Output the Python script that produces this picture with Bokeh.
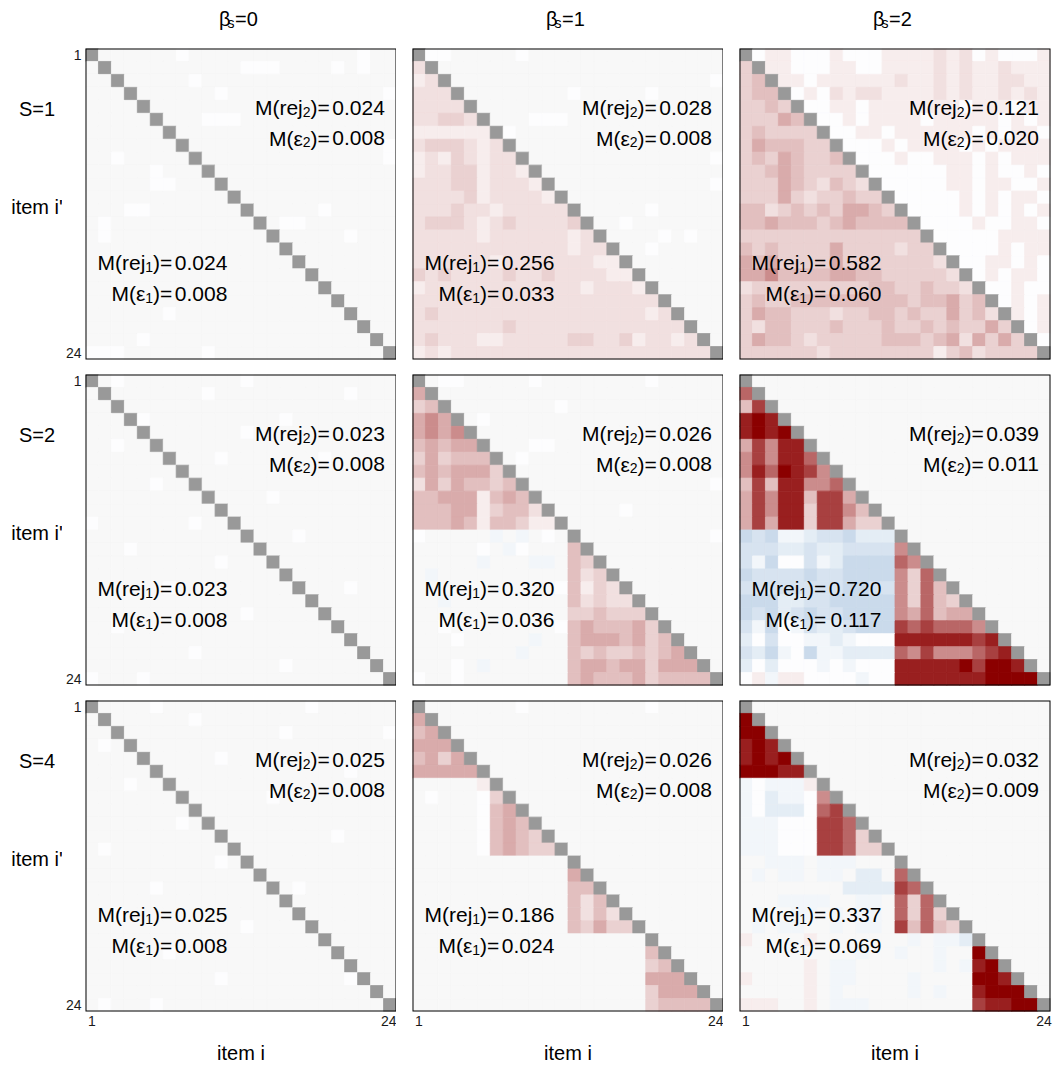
import numpy as np
from bokeh.plotting import figure
from bokeh.models import LinearColorMapper, Range1d, Label, FixedTicker, ColumnDataSource, BoxAnnotation
from bokeh.transform import transform
from bokeh.layouts import gridplot
from bokeh.embed import file_html
from bokeh.resources import INLINE

# ---------------- data ----------------
BETA_S = ["0", "1", "2"]
S_GROUPS = ["1", "2", "4"]
N_ITEMS = 24
TICKS = [1, 24]

REJ1 = [["0.024", "0.256", "0.582"], ["0.023", "0.320", "0.720"], ["0.025", "0.186", "0.337"]]
EPS1 = [["0.008", "0.033", "0.060"], ["0.008", "0.036", "0.117"], ["0.008", "0.024", "0.069"]]
REJ2 = [["0.024", "0.028", "0.121"], ["0.023", "0.026", "0.039"], ["0.025", "0.026", "0.032"]]
EPS2 = [["0.008", "0.008", "0.020"], ["0.008", "0.008", "0.011"], ["0.008", "0.008", "0.009"]]

# cell level codes ('.' = 0, 'w' = white, digits/X = red, a-e = blue)
CODE = {'.': 0.0, 'D': 0.0, 'w': -0.01,
        '1': 0.07, '2': 0.12, '3': 0.18, '4': 0.25, '5': 0.33, '6': 0.45,
        '7': 0.60, '8': 0.75, '9': 0.88, 'X': 1.0,
        'a': -0.06, 'b': -0.12, 'c': -0.18, 'd': -0.24, 'e': -0.30}

B0_S1 = [
    "D......w.............w..",
    ".D..........www....w.w..",
    "..D.....w...............",
    "...D......w............w",
    "....D...................",
    ".....D...www............",
    "......D.................",
    ".......D...............w",
    "..w.....D..............w",
    ".....w...D..............",
    ".....ww...D.............",
    "...........D............",
    "...ww.............w.....",
    ".w.............ww.......",
    ".w..................w...",
    "........................",
    "........................",
    "........................",
    "........................",
    "........................",
    "......w.................",
    ".....................w..",
    "....w...................",
    "www......w..............",
]
B0_S2 = [
    "D.w.........w...........",
    ".D.......w..........w...",
    "........................",
    "....w..........w........",
    "............w...........",
    "..w.....................",
    "..........w.......w.....",
    "........................",
    ".....w..................",
    "..............w.........",
    "........................",
    "w.......w...............",
    "................w.......",
    "...w....................",
    "..........w.............",
    "........................",
    "......w.............w...",
    "........................",
    "............w...........",
    "..w.....................",
    "........................",
    "........w...............",
    "...............w........",
    "w...w...................",
]
B0_S4 = [
    "D....w...........w......",
    "........w...............",
    "...............w.......w",
    ".w......................",
    "..........w.............",
    "....................w...",
    "...w....................",
    "..............w.........",
    "........................",
    ".......w................",
    "...................w....",
    ".w......................",
    "..........w.............",
    "........................",
    ".....w..........w.......",
    "........................",
    "..w.....................",
    "............w...........",
    "........................",
    "......w.................",
    "........................",
    "..........w.........w...",
    "........................",
    ".w...w..................",
]
B1_S1 = [
    "Dww.....w...............",
    "2D......................",
    "12D....................w",
    "222D........w.....w.....",
    "2222D...................",
    "22332D...www............",
    "111111Dw................",
    "2333212D................",
    "12132122D..............w",
    "122331221D..............",
    "2223312221D............w",
    "22223122221D............",
    "222322122222D.....w.....",
    "2333212322223D..w.......",
    "22222122222212D....w.w..",
    "222222222222122D..w.....",
    "2222221222222211D.......",
    "32322223223222211D......",
    "122222222222212221D.....",
    "2222222222222222222D....",
    "23222222222222222212D...",
    "222222232222222222222D..",
    "2322211222223322312212D.",
    "12122222222222222222222D",
]
B1_S2 = [
    "D.ww.....w........w.....",
    "5D......................",
    "34D........w............",
    "565D.w..................",
    "5656D...................",
    "45455D...ww.............",
    "353444D.w...............",
    "4545553D................",
    "25354434D..............w",
    "445551454D..............",
    "4445513442D.....w.......",
    "44454144311D............",
    "w.....a.a.w.D..........w",
    ".....w.aw...4D..........",
    ".....a...aa.43D.........",
    ".a..........423D........",
    "...........w4132D.......",
    "..a.........42322D......",
    "............334333D.....",
    "..w........w4544453D....",
    "...w.....a..45554534D...",
    "........a...434334345D..",
    "...w.a......4554553555D.",
    "w..w........45444534444D",
]
B1_S4 = [
    "D.......w.........w.....",
    "5D......................",
    "45D.....................",
    "555D....................",
    "4535D...................",
    "55555D..................",
    ".....1D.................",
    ".w...w3D................",
    ".....w45D...............",
    ".....w454D..............",
    ".....w4543D.............",
    ".....w45433D............",
    "............D...........",
    "............5D..........",
    "............44D.........",
    "............424D........",
    "............4242D.......",
    "............43533D......",
    "..................D.....",
    "..................4D....",
    "..................34D...",
    "..................555D..",
    "..................3555D.",
    "..................34444D",
]
B2_S1 = [
    "Dw11www1www1111212w1www1",
    "3D11www11ww1111212112111",
    "34D11w111111211212112211",
    "344Dw1w21221111212112121",
    "3343Dww11w1111111w111w11",
    "33354Dww1w1111w11111w1w1",
    "343333Dww11w111111w1w11w",
    "3544433Dwww1w1111w1w1111",
    "34354334Dwww1ww111w1w111",
    "334543333Dwwwwww11w1ww1w",
    "3335432432Dwwwww11w11ww1",
    "33353233433Dwwwww1w1w11w",
    "442343435543Dwwww1w1w1w1",
    "4454443454444Dwwww1ww11w",
    "33333333333333Dwwwww1111",
    "434333353333233Dwwww1w11",
    "5453333533333332Dww11w1w",
    "55644445544333332Dw1w11w",
    "233333333344334332Dww1ww",
    "3433444444444344534Dw1w1",
    "35443332334434335342D1w1",
    "324433343334334343353Dw1",
    "3544323333344434525353Dw",
    "33333323333333313423333D",
]
B2_S2 = [
    "D.......................",
    "7D......................",
    "48D.....................",
    "9X9D....................",
    "9X9XD...................",
    "58699D..................",
    "686997D.................",
    "697X986D................",
    "48499667D...............",
    "586994885D..............",
    "5869938864D.............",
    "58599388533D............",
    "dcdaabccdbbbD...........",
    "cccbbcbbcccc6D..........",
    "cadwwcabdddd76D.........",
    "dccccdccdddd637D........",
    "ccccccccddcc6374D.......",
    "dddbbccddddd63743D......",
    "dcdbcdccdddd657455D.....",
    "cadwacbbcddd8787776D....",
    "bwcwwaabawww99999989D...",
    "cbdawdaabbbb768666789D..",
    "bwbwwwawawww99999X8XX9D.",
    "w1a11wwwwaww9999999XXXXD",
]
B2_S4 = [
    "D.......................",
    "XD......................",
    "XXD.....................",
    "9X9D....................",
    "9X9XD...................",
    "XXX99D..................",
    "awaaa1D.................",
    "awbaaw6D................",
    "awbbbw78D...............",
    "aaawww887D..............",
    "aaawww8873D.............",
    "aaawww88733D............",
    "..aaa.aaa...D...........",
    ".a.aa.aa.bb.7D..........",
    "........bbbb87D.........",
    "...aaaa..aa.737D........",
    ".a..aa.a.aa.7373D.......",
    ".a.aa..a.aa.84743D......",
    "1....1.......a.aabD.....",
    ".........a..a..a..XD....",
    ".....1.aa......a.a9XD...",
    "1....1.aa....a....XX9D..",
    ".....1.a.....a.a..9XXXD.",
    "111..1.aaa........899XXD",
]
PANELS = [[B0_S1, B1_S1, B2_S1],
          [B0_S2, B1_S2, B2_S2],
          [B0_S4, B1_S4, B2_S4]]

# ---------------- colour scale ----------------
def _mix(c0, c1, t):
    return "#%02x%02x%02x" % tuple(int(round(a + (b - a) * t)) for a, b in zip(c0, c1))

WHITE = (255, 255, 255)
BLUE_END = (33, 102, 172)
RED_END = (139, 0, 0)
PALETTE = []
for k in range(201):
    if k < 100:
        PALETTE.append(_mix(WHITE, BLUE_END, (100 - k) / 100))
    elif k == 100:
        PALETTE.append("#f8f8f8")
    else:
        PALETTE.append(_mix(WHITE, RED_END, (k - 100) / 100))
mapper = LinearColorMapper(palette=PALETTE, low=-1, high=1, nan_color="#999999")

FONT = "Liberation Sans"
# Arial / Liberation Sans advance widths (em)
ADV = {'M': 0.833, '(': 0.333, ')': 0.333, 'r': 0.333, 'e': 0.556, 'j': 0.222,
       '=': 0.584, '.': 0.278, '\u03b5': 0.445}
CELL = 311 / 24.0


def tw(s, size):
    return sum(ADV.get(ch, 0.556) for ch in s) * size


def parse(rows):
    xs, ys, vs = [], [], []
    for r, s in enumerate(rows, start=1):
        s = (s + "." * N_ITEMS)[:N_ITEMS]
        for c, ch in enumerate(s, start=1):
            xs.append(c)
            ys.append(r)
            vs.append(np.nan if r == c else CODE.get(ch, 0.0))
    return ColumnDataSource(dict(x=np.array(xs, dtype=float), y=np.array(ys, dtype=float),
                                 v=np.array(vs, dtype=float)))


def lab(p, x, y, text, size="20px", align="left", xoff=0):
    p.add_layout(Label(x=x, y=y, x_offset=xoff, text=text, text_align=align, text_baseline="middle",
                       text_font=FONT, text_font_size=size, text_color="black"))


def stat(p, x, y, prefix, sub, val):
    big, small, gap = 21, 14, 2.5
    off = 0.0
    lab(p, x, y, val, size="%dpx" % big, align="right", xoff=-off)
    off += tw(val, big) + gap
    lab(p, x, y, ")=", size="%dpx" % big, align="right", xoff=-off)
    off += tw(")=", big)
    lab(p, x, y + 4.0 / CELL, sub, size="%dpx" % small, align="right", xoff=-off)
    off += tw(sub, small)
    lab(p, x, y, prefix, size="%dpx" % big, align="right", xoff=-off)


def bare(fw, fh, xr, yr, left=0, top=0, bottom=0, right=0):
    p = figure(frame_width=fw, frame_height=fh, x_range=xr, y_range=yr,
               output_backend="svg", toolbar_location=None,
               min_border_left=left, min_border_right=right, min_border_top=top, min_border_bottom=bottom,
               x_axis_location=None, y_axis_location=None,
               background_fill_color="white", border_fill_color="white", outline_line_color=None)
    p.xgrid.grid_line_color = None
    p.ygrid.grid_line_color = None
    return p


LEFT_W = 62
TITLE_H = 40
PANEL_LEFT = [21, 16, 16]
PANEL_RIGHT = [0, 0, 4]
PANEL_TOP = [8, 7, 7]
PANEL_BOTTOM = [8, 8, 58]

grid = []
# title row
title_row = [None]
for ci in range(3):
    t = bare(311, TITLE_H, Range1d(0.5, 24.5), Range1d(0, TITLE_H), left=PANEL_LEFT[ci], right=PANEL_RIGHT[ci])
    lab(t, 12.5, 22, "\u03b2", size="20px", xoff=-22)
    lab(t, 12.5, 17.5, "s", size="14px", xoff=-13.5)
    lab(t, 12.5, 22, "=" + BETA_S[ci], size="20px", xoff=-6)
    title_row.append(t)
grid.append(title_row)

for ri in range(3):
    row = []
    lp = bare(LEFT_W, 311, Range1d(0, LEFT_W), Range1d(24.5, 0.5),
              top=PANEL_TOP[ri], bottom=PANEL_BOTTOM[ri])
    lab(lp, 36.5, 5.17, "S=" + S_GROUPS[ri], align="center")
    lab(lp, 36.5, 12.76, "item i'", align="center")
    row.append(lp)
    for ci in range(3):
        p = figure(frame_width=311, frame_height=311,
                   x_range=Range1d(0.5, 24.5), y_range=Range1d(24.5, 0.5),
                   output_backend="svg", toolbar_location=None,
                   min_border_left=PANEL_LEFT[ci], min_border_right=PANEL_RIGHT[ci],
                   min_border_top=PANEL_TOP[ri], min_border_bottom=PANEL_BOTTOM[ri],
                   x_axis_location="below" if ri == 2 else None,
                   y_axis_location="left" if ci == 0 else None,
                   background_fill_color="white", border_fill_color="white",
                   outline_line_color=None)
        p.xgrid.grid_line_color = None
        p.ygrid.grid_line_color = None
        src = parse(PANELS[ri][ci])
        p.rect(x="x", y="y", width=1, height=1, source=src,
               fill_color=transform("v", mapper), line_color=transform("v", mapper), line_width=0.8)
        p.add_layout(BoxAnnotation(fill_color=None, fill_alpha=0, line_color="black",
                                   line_alpha=1.0, line_width=2))
        for ax in p.axis:
            ax.ticker = FixedTicker(ticks=TICKS)
            ax.axis_line_color = None
            ax.major_tick_line_color = None
            ax.minor_tick_line_color = None
            ax.major_tick_out = 0
            ax.major_tick_in = 0
            ax.major_label_standoff = 4
            ax.major_label_text_font = FONT
            ax.major_label_text_font_size = "14px"
            ax.major_label_text_color = "#1a1a1a"
        if ri == 2:
            p.xaxis.axis_label = "item i"
            p.xaxis.axis_label_text_font = FONT
            p.xaxis.axis_label_text_font_size = "20px"
            p.xaxis.axis_label_text_font_style = "normal"
            p.xaxis.axis_label_text_color = "black"
            p.xaxis.axis_label_standoff = 13
        stat(p, 23.6, 5.09, "M(rej", "2", REJ2[ri][ci])
        stat(p, 23.6, 7.44, "M(\u03b5", "2", EPS2[ri][ci])
        stat(p, 11.45, 17.05, "M(rej", "1", REJ1[ri][ci])
        stat(p, 11.45, 19.44, "M(\u03b5", "1", EPS1[ri][ci])
        row.append(p)
    grid.append(row)

layout = gridplot(grid, toolbar_location=None)
open("out.html", "w").write(file_html(layout, INLINE))
